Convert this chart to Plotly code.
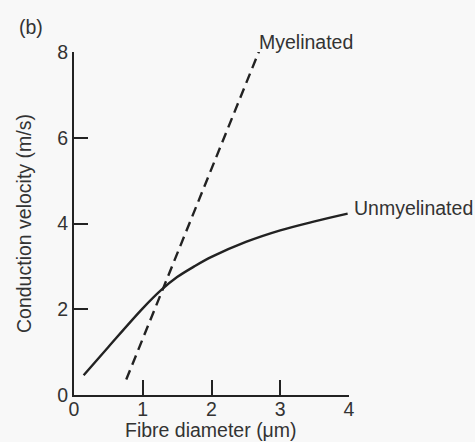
import plotly.graph_objects as go

# Data
unmy_x = [0.14, 0.5, 1.0, 1.27, 1.5, 1.75, 2.0, 2.5, 3.0, 3.5, 3.98]
unmy_y = [0.46, 1.12, 2.02, 2.45, 2.75, 3.00, 3.22, 3.57, 3.84, 4.05, 4.23]
my_x = [0.76, 2.69]
my_y = [0.36, 8.01]
x_ticks = [0, 1, 2, 3, 4]
y_ticks = [0, 2, 4, 6, 8]
x_range = [0, 4]
y_range = [0, 8]
x_title = "Fibre diameter (μm)"
y_title = "Conduction velocity (m/s)"

FONT = "Liberation Sans, Arial, sans-serif"
FS = 19.5
TXT = "#333333"
LINE = "#222222"

W, H = 475, 442
L, R, T, B = 74, 126, 52, 47
PW, PH = W - L - R, H - T - B


def paper_xy(px, py):
    return (px - L) / PW, (H - B - py) / PH


fig = go.Figure()
fig.add_trace(go.Scatter(x=unmy_x, y=unmy_y, mode="lines",
                         line=dict(color=LINE, width=2.4, shape="spline", smoothing=1.0),
                         cliponaxis=False, showlegend=False))
fig.add_trace(go.Scatter(x=my_x, y=my_y, mode="lines",
                         line=dict(color=LINE, width=2.4, dash="10px,6px"),
                         cliponaxis=False, showlegend=False))

fig.add_annotation(x=my_x[-1], y=min(my_y[-1], y_range[1]), xref="x", yref="y",
                   text="Myelinated", showarrow=False, xanchor="left", yanchor="middle",
                   xshift=-2, yshift=10, font=dict(family=FONT, size=FS, color=TXT))
fig.add_annotation(x=unmy_x[-1], y=unmy_y[-1], xref="x", yref="y", text="Unmyelinated",
                   showarrow=False, xanchor="left", yanchor="middle", xshift=4, yshift=6,
                   font=dict(family=FONT, size=FS, color=TXT))
bx, by = paper_xy(17, 27)
fig.add_annotation(x=bx, y=by, xref="paper", yref="paper",
                   text="(b)", showarrow=False, xanchor="left", yanchor="middle",
                   font=dict(family=FONT, size=FS, color=TXT))
tx, ty = paper_xy(211, 430)
fig.add_annotation(x=tx, y=ty, xref="paper", yref="paper", text=x_title,
                   showarrow=False, xanchor="center", yanchor="middle",
                   font=dict(family=FONT, size=FS, color=TXT))
yx, yy = paper_xy(24, 224)
fig.add_annotation(x=yx, y=yy, xref="paper", yref="paper", text=y_title,
                   showarrow=False, xanchor="center", yanchor="middle", textangle=-90,
                   font=dict(family=FONT, size=FS, color=TXT))

fig.update_xaxes(range=x_range, tickvals=x_ticks, ticks="inside", ticklen=15, tickwidth=2,
                 tickcolor=LINE, showline=True, linewidth=2, linecolor=LINE,
                 showgrid=False, zeroline=False, ticklabelstandoff=-4, automargin=False,
                 tickfont=dict(family=FONT, size=FS, color=TXT))
fig.update_yaxes(range=y_range, tickvals=y_ticks, ticks="inside", ticklen=14, tickwidth=2,
                 tickcolor=LINE, showline=True, linewidth=2, linecolor=LINE,
                 showgrid=False, zeroline=False, automargin=False,
                 tickfont=dict(family=FONT, size=FS, color=TXT))

fig.update_layout(width=W, height=H,
                  margin=dict(l=L, r=R, t=T, b=B, pad=0),
                  paper_bgcolor="#f8f8f8", plot_bgcolor="#f8f8f8",
                  showlegend=False)

fig.write_html("out.html")
